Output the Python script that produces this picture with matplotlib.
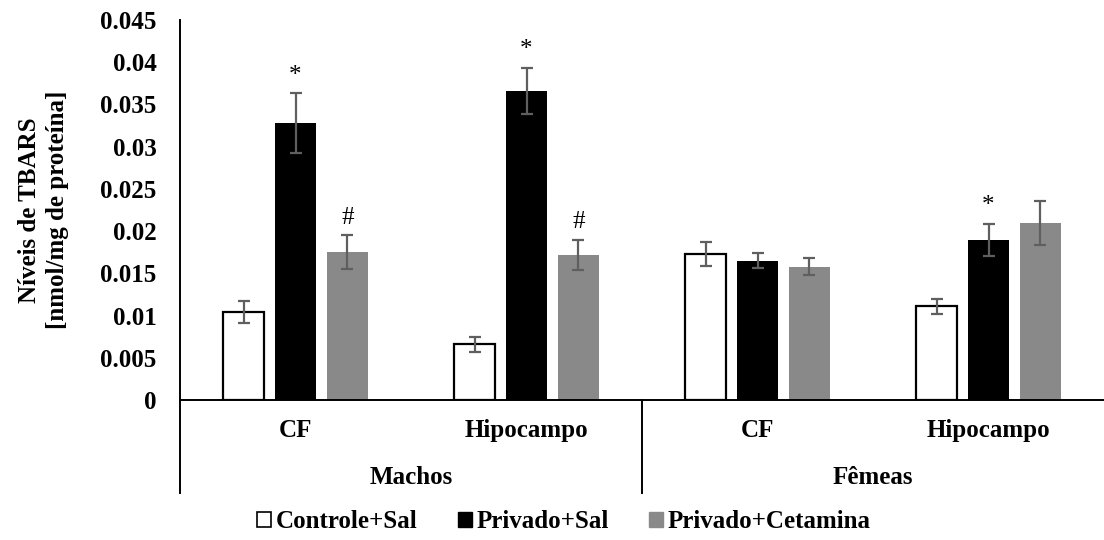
import matplotlib
matplotlib.use("Agg")
import matplotlib.pyplot as plt
import numpy as np
from matplotlib.lines import Line2D
from matplotlib.patches import Patch
import matplotlib.transforms as mtransforms

plt.rcParams['font.family'] = ['Liberation Serif', 'DejaVu Serif']
plt.rcParams['font.weight'] = 'bold'
plt.rcParams['axes.labelweight'] = 'bold'

categories = ["CF", "Hipocampo", "CF", "Hipocampo"]
groups = ["Machos", "Fêmeas"]
series_names = ["Controle+Sal", "Privado+Sal", "Privado+Cetamina"]

controle = [0.0104, 0.0066, 0.0173, 0.0111]
controle_err = [0.0013, 0.0009, 0.0014, 0.0009]
privado = [0.0328, 0.0366, 0.0165, 0.0190]
privado_err = [0.0035, 0.0027, 0.0009, 0.0019]
cetamina = [0.0175, 0.0172, 0.0158, 0.0210]
cetamina_err = [0.0020, 0.0018, 0.0010, 0.0026]

controle_marks = ["", "", "", ""]
privado_marks = ["*", "*", "", "*"]
cetamina_marks = ["#", "#", "", ""]

yticks = [0, 0.005, 0.01, 0.015, 0.02, 0.025, 0.03, 0.035, 0.04, 0.045]
ytick_labels = ["0", "0.005", "0.01", "0.015", "0.02", "0.025", "0.03", "0.035", "0.04", "0.045"]

fig = plt.figure(figsize=(11.04, 5.40), dpi=100)
ax = fig.add_axes([180/1104, 1 - 400/540, 1 - 180/1104, 380/540])

x = np.arange(len(categories))
offsets = [-0.225, 0.0, 0.225]
width = 0.18
fs = 18

styles = [
    dict(color="white", edgecolor="black", linewidth=1.6),
    dict(color="black", edgecolor="black", linewidth=0),
    dict(color="#898989", edgecolor="#898989", linewidth=0),
]
data = [(controle, controle_err, controle_marks),
        (privado, privado_err, privado_marks),
        (cetamina, cetamina_err, cetamina_marks)]

for (vals, errs, marks), off, st, name in zip(data, offsets, styles, series_names):
    ax.bar(x + off, vals, width, label=name, zorder=2, **st)
    ax.errorbar(x + off, vals, yerr=errs, fmt="none", ecolor="#5f5f5f",
                elinewidth=1.6, capsize=4.5, capthick=1.6, zorder=3)
    for xi, v, e, m in zip(x + off, vals, errs, marks):
        if m:
            ax.annotate(m, xy=(xi, v + e), xytext=(0, 8.5), textcoords="offset points",
                        ha="center", va="baseline", fontsize=fs, fontweight="normal")

ax.set_xlim(-0.5, 3.5)
ax.set_ylim(0, 0.045)
ax.set_yticks(yticks)
ax.set_yticklabels(ytick_labels)
ax.tick_params(axis="y", length=0, pad=17, labelsize=fs)
ax.set_xticks([])
for s in ["top", "right"]:
    ax.spines[s].set_visible(False)
ax.spines["left"].set_linewidth(1.4)
ax.spines["bottom"].set_linewidth(1.4)
ax.spines["left"].set_zorder(4)
ax.spines["bottom"].set_zorder(4)

ax.set_ylabel("Níveis de TBARS\n[nmol/mg de proteína]", fontsize=fs, fontweight="bold",
              linespacing=1.3, labelpad=22)

trans = mtransforms.blended_transform_factory(ax.transData, ax.transAxes)
for xi, c in zip(x, categories):
    ax.text(xi, -0.079, c, transform=trans, ha="center", va="center", fontsize=fs)
for gi, g in enumerate(groups):
    ax.text(0.5 + 2 * gi, -0.205, g, transform=trans, ha="center", va="center", fontsize=fs)

ybot = -(493 - 400) / 380
for xv in [-0.5, 1.5]:
    ax.add_line(Line2D([xv, xv], [0, ybot], transform=trans, color="black",
                       linewidth=1.4, clip_on=False))

handles = [Patch(facecolor="white", edgecolor="black", linewidth=1.2),
           Patch(facecolor="black", edgecolor="black"),
           Patch(facecolor="#898989", edgecolor="#898989")]
fig.legend(handles, series_names, loc="center", bbox_to_anchor=(0.511, 1 - 522/540),
           ncol=3, frameon=False, fontsize=fs, handlelength=0.55, handleheight=0.55,
           handletextpad=0.2, columnspacing=1.6)

fig.savefig("out.png", dpi=100)
